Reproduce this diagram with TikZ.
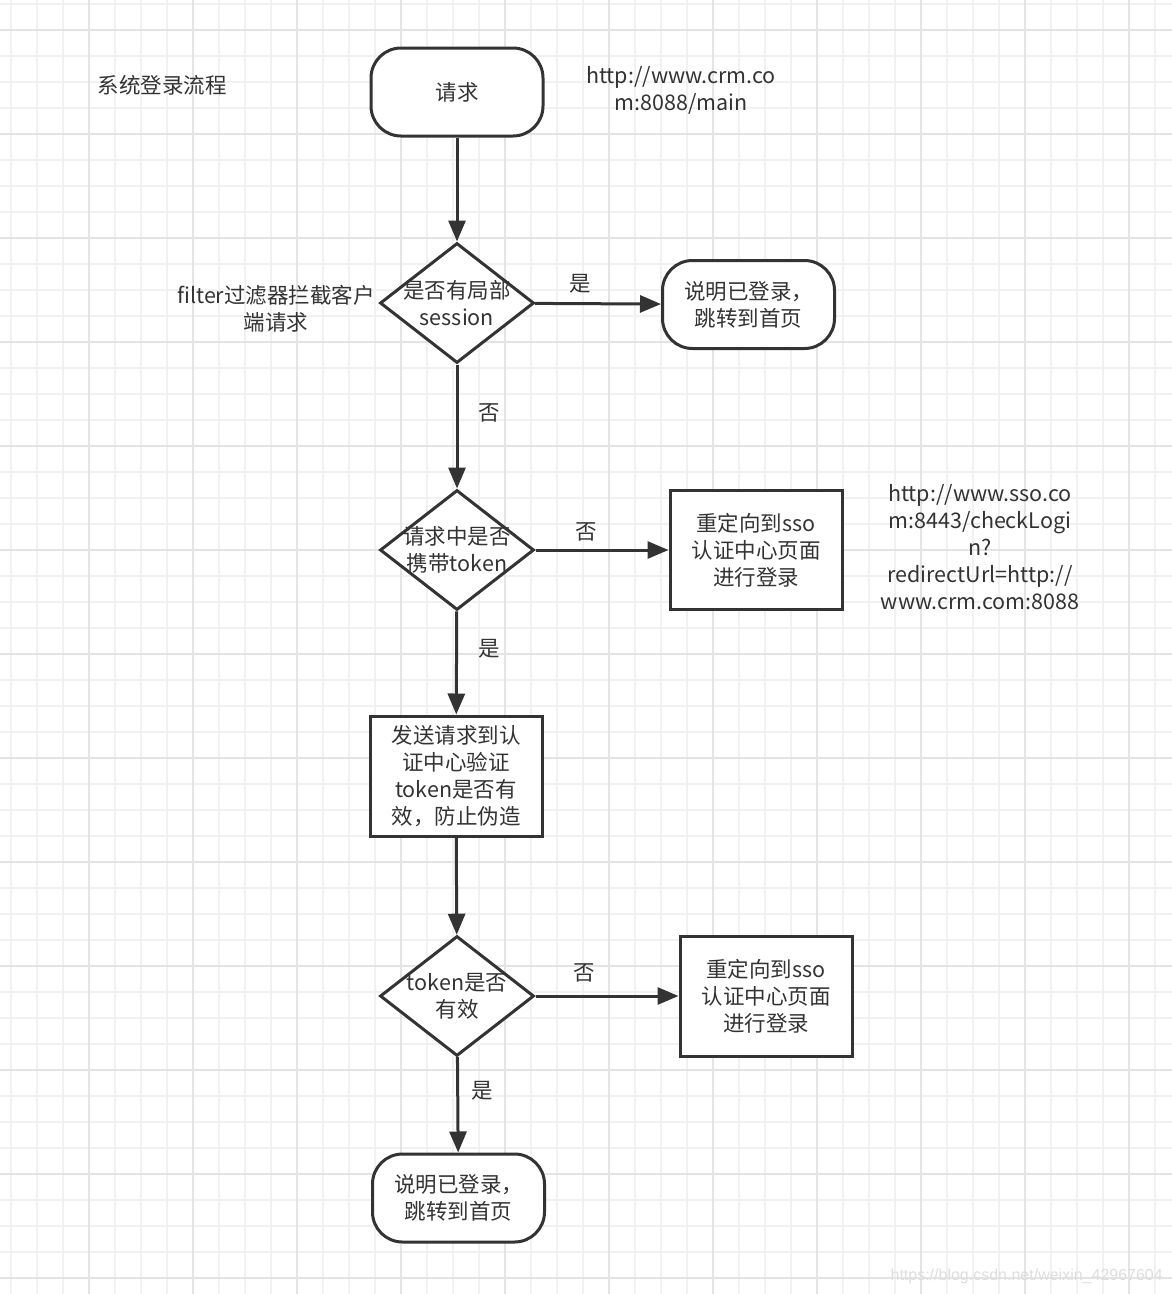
\documentclass[tikz,border=0pt]{standalone}
\usepackage{fontspec}
\setmainfont{Noto Sans CJK SC}
\newfontfamily\wmfont{Liberation Sans}
\usetikzlibrary{shapes.geometric,arrows.meta}
\definecolor{ink}{HTML}{333333}
\definecolor{gridminor}{HTML}{F1F1F1}
\definecolor{gridmajor}{HTML}{E4E4E4}
\definecolor{wmark}{HTML}{DEDEDE}
\begin{document}
\begin{tikzpicture}[x=1pt,y=-1pt,
  every node/.style={font=\fontsize{21.5}{27}\selectfont, text=ink},
  term/.style={draw=ink, line width=3pt, rounded corners=30pt, minimum width=172pt, minimum height=88pt, inner sep=0pt, align=center, fill=white},
  dia/.style={draw=ink, line width=3pt, diamond, minimum width=154pt, minimum height=120pt, inner sep=0pt, fill=white},
  procbox/.style={draw=ink, line width=3pt, minimum width=172pt, minimum height=119pt, inner sep=0pt, align=center, fill=white},
  txt/.style={align=center, inner sep=0pt},
  conn/.style={draw=ink, line width=3pt, -{Triangle[length=21pt,width=17pt]}},
  lbl/.style={inner sep=0pt}]
\useasboundingbox (0,0) rectangle (1172,1294);
\fill[white] (0,0) rectangle (1172,1294);
% grid
\foreach \i in {0,...,44} \draw[gridminor, line width=1.6pt] ({11+26*\i},0) -- ({11+26*\i},1294);
\foreach \j in {0,...,49} \draw[gridminor, line width=1.6pt] (0,{4+26*\j}) -- (1172,{4+26*\j});
\foreach \i in {0,...,10} \draw[gridmajor, line width=1.8pt] ({89+104*\i},0) -- ({89+104*\i},1294);
\foreach \j in {0,...,12} \draw[gridmajor, line width=1.8pt] (0,{30+104*\j}) -- (1172,{30+104*\j});

% free texts
\node[txt] (title) at (162,85) {系统登录流程};
\node[txt] (url1) at (681,90.5) {http://www.crm.co\\m:8088/main};
\node[txt] (filt) at (276,309) {filter过滤器拦截客户\\端请求};
\node[txt] (url2) at (980,547) {http://www.sso.co\\m:8443/checkLogi\\n?\\redirectUrl=http://\\www.crm.com:8088};

% shapes
\node[term] (start) at (457,92) {请求};
\node[dia] (d1) at (457,303) {};
\node[txt] (d1t) at (d1.center) {是否有局部\\session};
\node[term] (ok1) at (748.5,304.5) {说明已登录，\\跳转到首页};
\node[dia] (d2) at (457,550) {};
\node[txt] (d2t) at (d2.center) {请求中是否\\携带token};
\node[procbox] (r1) at (756,550) {重定向到sso\\认证中心页面\\进行登录};
\node[procbox, minimum height=120pt] (r2) at (456,776) {发送请求到认\\证中心验证\\token是否有\\效，防止伪造};
\node[dia] (d3) at (457,996) {};
\node[txt] (d3t) at (d3.center) {token是否\\有效};
\node[procbox, minimum height=120pt] (r3) at (766,996) {重定向到sso\\认证中心页面\\进行登录};
\node[term] (ok2) at (458.5,1198) {说明已登录，\\跳转到首页};

% connectors
\draw[conn] (start) -- (d1);
\draw[conn] (d1) -- (ok1);
\draw[conn] (d1) -- (d2);
\draw[conn] (d2) -- (r1);
\draw[conn] (d2) -- (r2);
\draw[conn] (r2) -- (d3);
\draw[conn] (d3) -- (r3);
\draw[conn] (d3) -- (ok2);

% edge labels
\node[lbl] (l1) at (580,284) {是};
\node[lbl] (l2) at (489,413) {否};
\node[lbl] (l3) at (586,532) {否};
\node[lbl] (l4) at (489,649) {是};
\node[lbl] (l5) at (584,973) {否};
\node[lbl] (l6) at (482,1091) {是};

% watermark
\node[txt, text=wmark, font=\wmfont\fontsize{16}{19}\selectfont, anchor=east] (wm) at (1163,1276) {https://blog.csdn.net/weixin\_42967604};
\end{tikzpicture}
\end{document}
